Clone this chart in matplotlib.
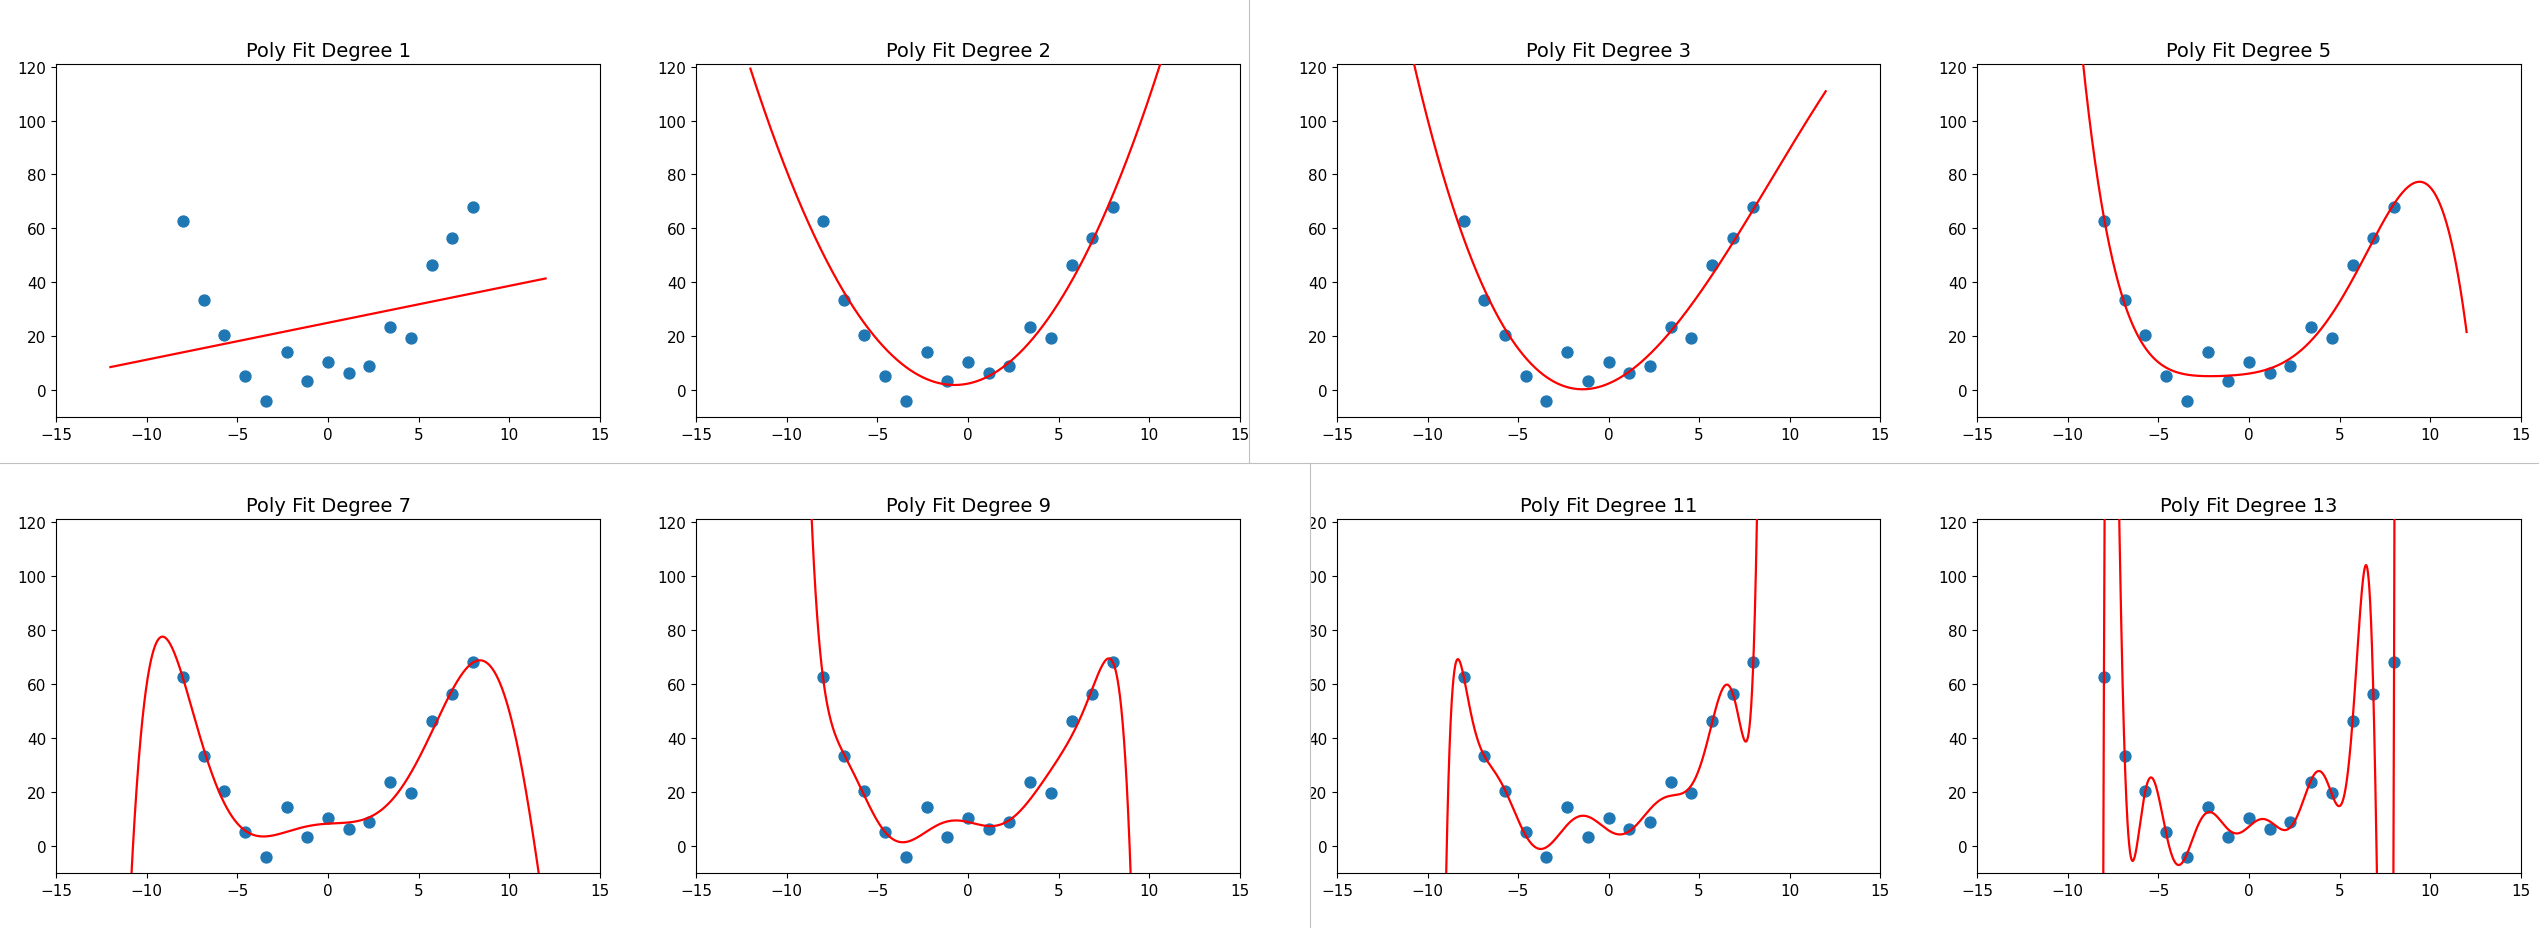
import numpy as np
import matplotlib as mpl
import matplotlib.pyplot as plt
from matplotlib.patches import Rectangle
from matplotlib.lines import Line2D

mpl.use('Agg')

# data points
x_pts = [-8.0, -6.8571, -5.7143, -4.5714, -3.4286, -2.2857, -1.1429, 0.0,
         1.1429, 2.2857, 3.4286, 4.5714, 5.7143, 6.8571, 8.0]
y_pts = [62.7, 33.3, 20.4, 5.1, -4.0, 14.3, 3.3, 10.4,
         6.3, 8.8, 23.5, 19.5, 46.4, 56.4, 68.1]
degrees = [1, 2, 3, 5, 7, 9, 11, 13]
x_ticks = [-15, -10, -5, 0, 5, 10, 15]
y_ticks = [0, 20, 40, 60, 80, 100, 120]

W, H = 2539, 929
fig = plt.figure(figsize=(W / 100, H / 100), dpi=100)

# axes boxes in pixels (left, right) and (top, bottom)
cols = [(56, 600), (696, 1240), (1337, 1880), (1977, 2521)]
rows = [(65, 418), (520, 874)]

xs = np.linspace(-12, 12, 2000)
for i, deg in enumerate(degrees):
    l, r = cols[i % 4]
    t, b = rows[i // 4]
    ax = fig.add_axes([l / W, 1 - b / H, (r - l) / W, (b - t) / H])
    coef = np.polyfit(x_pts, y_pts, deg)
    ax.scatter(x_pts, y_pts, s=62, color='#1f77b4', zorder=2)
    ax.plot(xs, np.polyval(coef, xs), color='red', lw=1.6, zorder=3)
    ax.set_xlim(-15, 15)
    ax.set_ylim(-10, 121)
    ax.set_xticks(x_ticks)
    ax.set_yticks(y_ticks)
    ax.tick_params(labelsize=11)
    ax.set_title('Poly Fit Degree %d' % deg, fontsize=14)

# the picture is made of four screenshots: hide the cut part and draw the seams
fig.add_artist(Rectangle((1250 / W, 0), 59.5 / W, 1 - 465 / H,
                         transform=fig.transFigure, color='white', zorder=10))
seam = '#c0c0c0'
fig.add_artist(Line2D([1249 / W, 1249 / W], [1, 1 - 464 / H], transform=fig.transFigure,
                      color=seam, lw=0.8, zorder=11))
fig.add_artist(Line2D([0, 1], [1 - 464 / H, 1 - 464 / H], transform=fig.transFigure,
                      color=seam, lw=0.8, zorder=11))
fig.add_artist(Line2D([1310 / W, 1310 / W], [1 - 464 / H, 0], transform=fig.transFigure,
                      color=seam, lw=0.8, zorder=11))

fig.savefig('out.png', dpi=100)
